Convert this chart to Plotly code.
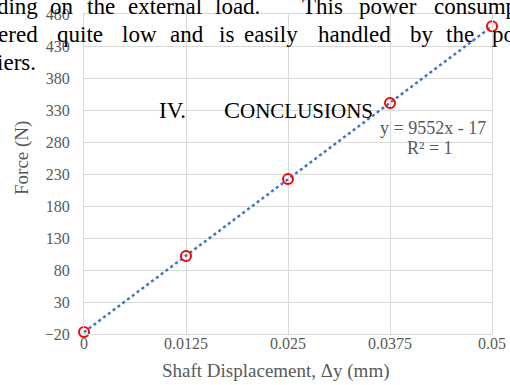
import numpy as np
import plotly.graph_objects as go

# Data
displacement = [0, 0.0125, 0.025, 0.0375, 0.05]
force = [-17, 102, 222, 341, 461]
x_tickvals = [0, 0.0125, 0.025, 0.0375, 0.05]
x_ticktext = ["0", "0.0125", "0.025", "0.0375", "0.05"]
y_tickvals = [-20, 30, 80, 130, 180, 230, 280, 330, 380, 430, 480]

W, H = 510, 385
L, R, T, B = 84, 18, 14, 51
PW, PH = W - L - R, H - T - B

def px(x):
    return (x - L) / PW

def py(y):
    return (H - B - y) / PH

slope, intercept = np.polyfit(displacement, force, 1)
tx = [displacement[0], displacement[-1]]
ty = [slope * v + intercept for v in tx]

fig = go.Figure()
fig.add_trace(go.Scatter(x=tx, y=ty, mode="lines",
                         line=dict(color="#4472c4", width=2.5, dash="3px,3px"),
                         hoverinfo="skip", showlegend=False, cliponaxis=False))
fig.add_trace(go.Scatter(x=displacement, y=force, mode="markers",
                         marker=dict(symbol="circle-open", size=10, color="#ff0000",
                                     line=dict(width=2, color="#ff0000")),
                         showlegend=False, cliponaxis=False))

grey = "#595959"
serif = "Liberation Serif"
tickfont = dict(family=serif, size=16, color=grey)

fig.update_layout(
    template="none",
    width=W, height=H,
    margin=dict(l=L, r=R, t=T, b=B, autoexpand=False),
    paper_bgcolor="white", plot_bgcolor="white",
    xaxis=dict(range=[0, 0.05], tickvals=x_tickvals, ticktext=x_ticktext,
               showgrid=True, gridcolor="#d9d9d9", gridwidth=1, zeroline=False,
               showline=True, linecolor="#d9d9d9", mirror=True, ticks="",
               tickfont=tickfont, ticklabelstandoff=-5, automargin=False),
    yaxis=dict(range=[-20, 480], tickvals=y_tickvals,
               showgrid=True, gridcolor="#d9d9d9", gridwidth=1, zeroline=False,
               showline=True, linecolor="#d9d9d9", mirror=True, ticks="",
               tickfont=tickfont, ticklabelstandoff=10, automargin=False),
)

ann = []
# axis titles
ann.append(dict(text="Force (N)", x=px(22), y=py(158), xref="paper", yref="paper",
                textangle=-90, showarrow=False, xanchor="center", yanchor="middle",
                font=dict(family=serif, size=19, color=grey)))
ann.append(dict(text="Shaft Displacement, Δy (mm)", x=px(276), y=py(371), xref="paper", yref="paper",
                showarrow=False, xanchor="center", yanchor="middle",
                font=dict(family=serif, size=19, color=grey)))
# trendline label
ann.append(dict(text="y = 9552x - 17", x=px(433), y=py(128), xref="paper", yref="paper",
                showarrow=False, xanchor="center", yanchor="middle",
                font=dict(family=serif, size=18, color=grey)))
ann.append(dict(text="R² = 1", x=px(430), y=py(148), xref="paper", yref="paper",
                showarrow=False, xanchor="center", yanchor="middle",
                font=dict(family=serif, size=18, color=grey)))

# overlapping body text of the page
body = dict(family=serif, size=23, color="black")
line1 = [("depending", 40, "right"), ("on", 48, "left"), ("the", 85, "left"),
         ("external", 126, "left"), ("load.", 213, "left"), ("This", 300, "left"),
         ("power", 357, "left"), ("consumption", 432, "left")]
line2 = [("considered", 40, "right"), ("quite", 55, "left"), ("low", 120, "left"),
         ("and", 168, "left"), ("is", 217, "left"), ("easily", 242, "left"),
         ("handled", 316, "left"), ("by", 408, "left"), ("the", 444, "left"),
         ("power", 490, "left")]
line3 = [("amplifiers.", 38, "right")]
for words, base in ((line1, 12), (line2, 40), (line3, 68)):
    for w, x, anc in words:
        ann.append(dict(text=w, x=px(x), y=py(base - 6), xref="paper", yref="paper",
                        showarrow=False, xanchor=anc, yanchor="middle", font=body))
ann.append(dict(text="IV.", x=px(157), y=py(117 - 7), xref="paper", yref="paper",
                showarrow=False, xanchor="left", yanchor="middle", font=body))
ann.append(dict(text="C<span style='font-size:21px'>ONCLUSIONS</span>", x=px(222), y=py(117 - 7),
                xref="paper", yref="paper",
                showarrow=False, xanchor="left", yanchor="middle",
                font=dict(family=serif, size=24, color="black")))

fig.update_layout(annotations=ann)
fig.write_html("out.html")
